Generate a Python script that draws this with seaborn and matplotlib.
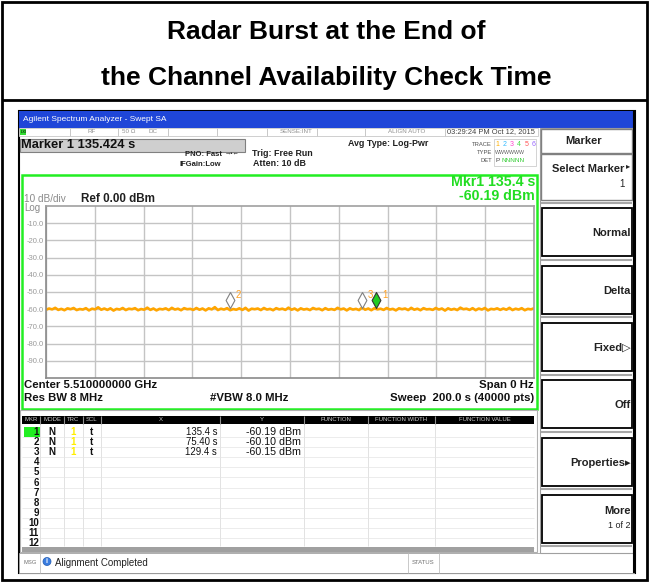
import numpy as np
import matplotlib
matplotlib.use("Agg")
import matplotlib.pyplot as plt
from matplotlib.patches import Rectangle, Circle
from matplotlib.path import Path
import seaborn as sns

# ---------------- data ----------------
title_lines = ["Radar Burst at the End of", "the Channel Availability Check Time"]
sweep_time_s = 200.0
ref_level_dbm = 0.0
db_per_div = 10
ytick_values = [-10, -20, -30, -40, -50, -60, -70, -80, -90]
ytick_labels = ["-10.0", "-20.0", "-30.0", "-40.0", "-50.0", "-60.0", "-70.0", "-80.0", "-90.0"]
xtick_values = [0, 20, 40, 60, 80, 100, 120, 140, 160, 180, 200]

trace_dbm = [
    -60.3, -59.6, -60.1, -59.2, -60.4, -59.8, -60.6, -59.5, -60.0, -59.3,
    -60.5, -59.9, -60.2, -59.4, -60.7, -59.7, -60.1, -58.9, -60.3, -59.6,
    -60.4, -59.5, -60.8, -59.8, -60.2, -59.3, -60.5, -59.7, -60.0, -59.4,
    -60.6, -59.9, -60.3, -59.1, -60.4, -59.6, -60.7, -59.8, -60.1, -59.5,
    -60.5, -59.2, -60.2, -59.7, -60.6, -59.4, -60.0, -59.8, -60.4, -59.3,
    -60.3, -59.6, -60.7, -59.5, -60.1, -58.8, -60.5, -59.7, -60.2, -59.4,
    -60.6, -59.9, -60.3, -59.5, -60.4, -59.2, -60.8, -59.7, -60.0, -59.6,
    -60.5, -59.3, -60.2, -59.8, -60.6, -59.4, -60.1, -59.7, -60.4, -59.1,
    -60.3, -59.6, -60.7, -59.5, -60.2, -59.8, -60.5, -59.3, -60.0, -59.7,
    -60.6, -59.4, -60.3, -59.9, -60.4, -59.2, -60.1, -59.6, -60.7, -59.5,
    -60.2, -59.8, -60.5, -59.0, -60.3, -59.6, -60.6, -59.4, -60.1, -59.7,
    -60.4, -59.3, -60.2, -59.8, -60.7, -59.5, -60.0, -59.6, -60.5, -59.2,
    -60.3, -59.7, -60.6, -59.4, -60.1, -59.9, -60.4, -59.3, -60.2, -59.6,
    -60.8, -59.5, -60.3, -59.8, -60.5, -59.1, -60.0, -59.7, -60.4, -59.4,
    -60.6, -59.6, -60.2, -59.3, -60.7, -59.8, -60.1, -59.5, -60.4, -59.6,
    -60.3, -59.2, -60.5, -59.7, -60.2, -59.4, -60.6, -59.8, -60.1, -59.5,
]

marker_ids = [1, 2, 3]
marker_x_s = [135.4, 75.40, 129.4]
marker_y_dbm = [-60.19, -60.10, -60.15]

softkeys = ["Normal", "Delta", "Fixed\u25b7", "Off", "Properties\u25b8", "More"]

# ---------------- style ----------------
sns.set_theme(style="white")
plt.rcParams["font.family"] = ["Liberation Sans", "DejaVu Sans"]

W, H = 650, 582
fig = plt.figure(figsize=(6.5, 5.82), dpi=100)
fig.patch.set_facecolor("white")

ov = fig.add_axes([0, 0, 1, 1], zorder=0)
ov.set_xlim(0, W)
ov.set_ylim(H, 0)
ov.axis("off")


def rect(x0, y0, x1, y1, fc="none", ec="none", lw=1.0, z=1):
    ov.add_patch(Rectangle((x0, y0), x1 - x0, y1 - y0, facecolor=fc,
                           edgecolor=ec, linewidth=lw, zorder=z))


def txt(x, y, s, fs=6, w="normal", c="black", ha="left", z=5):
    ov.text(x, y, s, fontsize=fs, fontweight=w, color=c, ha=ha, va="center", zorder=z)


def hline(y, x0, x1, c="black", lw=1.0, z=2):
    ov.plot([x0, x1], [y, y], color=c, lw=lw, zorder=z, solid_capstyle="butt")


def vline(x, y0, y1, c="black", lw=1.0, z=2):
    ov.plot([x, x], [y0, y1], color=c, lw=lw, zorder=z, solid_capstyle="butt")


# outer table
rect(2, 1.5, 647, 580, ec="black", lw=2)
hline(100, 2, 647, lw=2)
txt(326, 32, title_lines[0], fs=19, w="bold", ha="center")
txt(326, 78, title_lines[1], fs=19, w="bold", ha="center")

# screenshot frame
rect(18.5, 110.5, 634.5, 573, fc="white", ec="black", lw=1.5)
rect(19, 111, 634, 128, fc="#1f46d8")
txt(23, 119.5, "Agilent Spectrum Analyzer - Swept SA", fs=6, c="white")

# info row
rect(19, 128, 538, 135.5, fc="white", ec="#c8c8c8", lw=0.6)
for xd in [70, 118, 168, 217, 267, 317, 365, 445]:
    vline(xd, 128, 135.5, c="#c8c8c8", lw=0.7)
rect(20, 128.5, 26, 135, fc="#33dd33")
txt(20.5, 131.8, "LXI", fs=2.8, w="bold", c="#104010")
txt(92, 131.8, "RF", fs=4.5, c="#909090", ha="center")
txt(129, 131.8, "50 \u03a9", fs=4.5, c="#909090", ha="center")
txt(153, 131.8, "DC", fs=4.5, c="#909090", ha="center")
txt(296, 131.8, "SENSE:INT", fs=4.5, c="#909090", ha="center")
txt(407, 131.8, "ALIGN AUTO", fs=4.5, c="#909090", ha="center")
txt(535, 131.8, "03:29:24 PM Oct 12, 2015", fs=5.4, c="#404040", ha="right")

rect(20, 139, 245, 152, fc="#cfcfcf", ec="#808080", lw=0.8)
txt(21, 145.5, "Marker 1 135.424 s", fs=9.3, w="bold", c="#111111")
txt(222, 154, "PNO: Fast", fs=5.5, w="bold", c="#202020", ha="right")
txt(225, 153.5, "\u2192\u2022\u2190", fs=4.5, c="#202020")
txt(180, 165, "IFGain:Low", fs=5.5, w="bold", c="#202020")
txt(252, 153.5, "Trig: Free Run", fs=6.4, w="bold", c="#202020")
txt(253, 164, "Atten: 10 dB", fs=6.4, w="bold", c="#202020")
txt(348, 143.5, "Avg Type: Log-Pwr", fs=6.4, w="bold", c="#202020")

rect(494, 139, 536, 166, fc="white", ec="#cccccc", lw=0.6)
txt(492, 144, "TRACE", fs=4.2, c="#505050", ha="right")
txt(492, 152, "TYPE", fs=4.2, c="#505050", ha="right")
txt(492, 160, "DET", fs=4.2, c="#505050", ha="right")
trace_cols = ["#ffb000", "#33bbff", "#ff44cc", "#44dd44", "#ff5555", "#9966ff"]
for i, cc in enumerate(trace_cols):
    txt(497 + i * 7.3, 144, str(i + 1), fs=5, c=cc, ha="center")
txt(495, 152, "WWWWWW", fs=3.8, c="#606060")
txt(495, 160, "P", fs=4.6, c="#404040")
txt(501, 160, "NNNNN", fs=4.6, c="#33cc33")

# graph frame (green)
rect(21.5, 174.5, 537, 408.5, fc="white", ec="#22ee22", lw=1.8, z=1)
txt(24, 199.5, "10 dB/div", fs=7.2, c="#8a8a8a")
txt(81, 198.5, "Ref 0.00 dBm", fs=8.4, w="bold", c="#202020")
txt(24, 208, "Log", fs=7, c="#8a8a8a")
txt(535, 181.5, "Mkr1 135.4 s", fs=10.2, w="bold", c="#22dd22", ha="right")
txt(535, 196.5, "-60.19 dBm", fs=10.2, w="bold", c="#22dd22", ha="right")
txt(24, 385, "Center 5.510000000 GHz", fs=8.2, w="bold", c="#111111")
txt(24, 398, "Res BW 8 MHz", fs=8.2, w="bold", c="#111111")
txt(249, 398, "#VBW 8.0 MHz", fs=8.2, w="bold", c="#111111", ha="center")
txt(534, 385, "Span 0 Hz", fs=8.2, w="bold", c="#111111", ha="right")
txt(534, 398, "Sweep  200.0 s (40000 pts)", fs=8.2, w="bold", c="#111111", ha="right")

# marker table
rect(20, 410, 537, 552, fc="white", ec="#b0b0b0", lw=0.8)
rect(22, 416, 534, 423.5, fc="black")
col_edges = [22, 40, 64, 83, 101, 220, 304, 368, 435, 534]
col_names = ["MKR", "MODE", "TRC", "SCL", "X", "Y", "FUNCTION", "FUNCTION WIDTH", "FUNCTION VALUE"]
for i, nm in enumerate(col_names):
    txt((col_edges[i] + col_edges[i + 1]) / 2, 419.8, nm, fs=4.3, c="#d0d0d0", ha="center")
    if i > 0:
        vline(col_edges[i], 416, 423.5, c="#909090", lw=0.8, z=3)
        vline(col_edges[i], 424, 546, c="#dddddd", lw=0.6)
row_y = [432 + 10.1 * k for k in range(12)]
for k, yy in enumerate(row_y):
    hline(yy + 5, 22, 534, c="#e4e4e4", lw=0.5)
    txt(39, yy, str(k + 1), fs=7, w="bold", c="#111111", ha="right")
rect(24, 427, 40, 437, fc="#22ee22", z=2)
for k, (mid, mx, my) in enumerate(zip(marker_ids, marker_x_s, marker_y_dbm)):
    yy = row_y[mid - 1]
    txt(52, yy, "N", fs=7, w="bold", c="#111111", ha="center")
    txt(73, yy, "1", fs=7, w="bold", c="#ffee00", ha="center")
    txt(91, yy, "t", fs=7, w="bold", c="#111111", ha="center")
    txt(217, yy, f"{mx:#.4g} s", fs=6.9, c="#111111", ha="right")
    txt(301, yy, f"{my:.2f} dBm", fs=7.7, c="#111111", ha="right")
rect(22, 547, 534, 552, fc="#a0a0a0", z=2)

# message bar
rect(19, 553, 634, 573, fc="white", ec="#a0a0a0", lw=0.6)
txt(24, 563, "MSG", fs=4.2, c="#707070")
vline(40, 553, 573, c="#c0c0c0", lw=0.6)
ov.add_patch(Circle((47, 561.5), 4, facecolor="#3a7de0", edgecolor="#205ab0", lw=0.5, zorder=4))
txt(47, 561.5, "i", fs=5, w="bold", c="white", ha="center", z=6)
txt(55, 563, "Alignment Completed", fs=7, c="#222222")
vline(408, 553, 573, c="#c0c0c0", lw=0.6)
vline(439, 553, 573, c="#c0c0c0", lw=0.6)
txt(423.5, 563, "STATUS", fs=4.3, c="#707070", ha="center")

# soft key panel
rect(540, 128, 633, 553, fc="white", ec="#a0a0a0", lw=0.8)
vline(634, 111, 573, c="black", lw=1.5, z=3)
rect(541, 128.5, 632, 152.5, fc="white", ec="#808080", lw=1.0)
txt(584, 140.5, "Marker", fs=8, w="bold", c="#222222", ha="center")
rect(541, 153.5, 632, 200, fc="white", ec="#808080", lw=1.0)
txt(624, 169, "Select Marker", fs=8, w="bold", c="#222222", ha="right")
txt(626, 167, "\u25b8", fs=6, c="#222222")
txt(625, 184, "1", fs=7, c="#222222", ha="right")
hline(203, 541, 632, c="#a8a8a8", lw=1.5)
btn_tops = [208, 265.5, 323, 380, 437.5, 494.5]
for top, lab in zip(btn_tops, softkeys):
    rect(541.5, top, 632, top + 48, fc="white", ec="black", lw=1.3, z=2)
    hline(top + 51.5, 541, 632, c="#a8a8a8", lw=1.5)
    if lab == "More":
        txt(631, top + 16, "More", fs=8, w="bold", c="#222222", ha="right")
        txt(631, top + 31, "1 of 2", fs=6.5, c="#222222", ha="right")
    else:
        txt(631, top + 25, lab, fs=8, w="bold", c="#222222", ha="right")

# ---------------- data axes ----------------
ax = fig.add_axes([46 / W, 1 - 378 / H, (534 - 46) / W, (378 - 206) / H], zorder=3)
ax.set_facecolor("white")
n = len(trace_dbm)
trace_t = np.arange(n) * sweep_time_s / (n - 1)
sns.lineplot(x=trace_t, y=trace_dbm, ax=ax, color="#ffa500", lw=1.9, estimator=None)
ax.set_xlim(0, sweep_time_s)
ax.set_ylim(ref_level_dbm - 10 * db_per_div, ref_level_dbm)
ax.set_xticks(xtick_values)
ax.set_yticks(ytick_values)
ax.set_yticklabels(ytick_labels)
ax.set_xticklabels([])
ax.tick_params(axis="both", length=0)
ax.tick_params(axis="y", labelsize=5.5, labelcolor="#9a9a9a", pad=1.5)
ax.grid(True, color="#c4c4c4", lw=1.0)
ax.set_xlabel("")
ax.set_ylabel("")
for sp in ax.spines.values():
    sp.set_color("#a0a0a0")
    sp.set_linewidth(1.2)
ax.spines["left"].set_color("#8a8a8a")
ax.spines["bottom"].set_color("#8a8a8a")

# marker diamonds: bottom tip sits on the trace point
diamond = Path([(0, 0), (0.55, 1), (0, 2), (-0.55, 1), (0, 0)],
               [Path.MOVETO, Path.LINETO, Path.LINETO, Path.LINETO, Path.CLOSEPOLY])
for mid, mx, my in zip(marker_ids, marker_x_s, marker_y_dbm):
    active = mid == 1
    ax.plot([mx], [my + 0.6], marker=diamond, markersize=23,
            markerfacecolor="#22cc22" if active else "white",
            markeredgecolor="#333333" if active else "#808080",
            markeredgewidth=0.8, linestyle="none", zorder=5)
    ax.annotate(str(mid), (mx, my), xytext=(4.2, 10.5), textcoords="offset points",
                fontsize=7, color="#ffa020", ha="left", va="center", zorder=6)

fig.savefig("out.png", dpi=100, facecolor="white")
